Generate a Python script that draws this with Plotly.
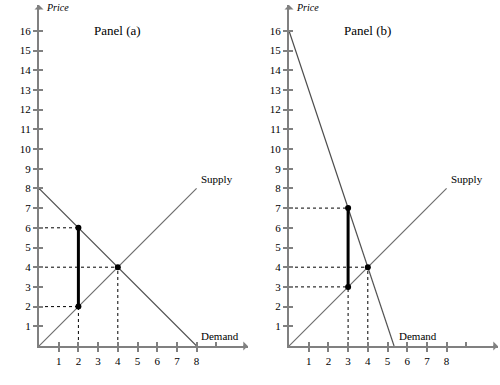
import plotly.graph_objects as go

# Data
ticks_x = [1, 2, 3, 4, 5, 6, 7, 8, 9]
tick_labels_x = ["1", "2", "3", "4", "5", "6", "7", "8", ""]
ticks_y = list(range(1, 17))
tick_labels_y = [str(v) for v in ticks_y]

supply_q = [0, 8]
supply_p = [0, 8]

demand_a_q = [0, 8]
demand_a_p = [8, 0]
points_a_q = [2, 2, 4]
points_a_p = [6, 2, 4]
wedge_a_q = [2, 2]
wedge_a_p = [2, 6]

demand_b_q = [0, 16 / 3]
demand_b_p = [16, 0]
points_b_q = [3, 3, 4]
points_b_p = [7, 3, 4]
wedge_b_q = [3, 3]
wedge_b_p = [3, 7]

PX = 19.7          # pixels per unit
XMAX = 10.6
Y0 = 346           # origin row (pixels from top)
YTOP = 5           # top of y axis arrow
YMAX = (Y0 - YTOP) / PX
FONT = "Liberation Serif, Times New Roman, serif"
AXC = "#808080"
LINEC = "#6e6e6e"
DASH = "3px,3px"

fig = go.Figure()


def panel(xa, ya, dq, dp, pq, pp, wq, wp, title, demand_label_x):
    xr = xa.replace("axis", "")
    yr = ya.replace("axis", "")
    for q, p in zip(pq, pp):
        fig.add_trace(go.Scatter(x=[0, q], y=[p, p], mode="lines",
                                 line=dict(color="black", width=1, dash=DASH),
                                 xaxis=xr, yaxis=yr, showlegend=False, hoverinfo="skip"))
    for q in sorted(set(pq)):
        fig.add_trace(go.Scatter(x=[q, q], y=[0, min(p for qq, p in zip(pq, pp) if qq == q)],
                                 mode="lines", line=dict(color="black", width=1, dash=DASH),
                                 xaxis=xr, yaxis=yr, showlegend=False, hoverinfo="skip"))
    fig.add_trace(go.Scatter(x=supply_q, y=supply_p, mode="lines",
                             line=dict(color=LINEC, width=1.2),
                             xaxis=xr, yaxis=yr, showlegend=False))
    fig.add_trace(go.Scatter(x=dq, y=dp, mode="lines",
                             line=dict(color="#505050", width=1.2),
                             xaxis=xr, yaxis=yr, showlegend=False))
    fig.add_trace(go.Scatter(x=wq, y=wp, mode="lines",
                             line=dict(color="black", width=3),
                             xaxis=xr, yaxis=yr, showlegend=False))
    fig.add_trace(go.Scatter(x=pq, y=pp, mode="markers",
                             marker=dict(color="black", size=6, symbol="circle"),
                             xaxis=xr, yaxis=yr, showlegend=False))
    fig.add_annotation(x=4.0, y=16, xref=xr, yref=yr, text=title, showarrow=False,
                       font=dict(family=FONT, size=13, color="black"))
    fig.add_annotation(x=8.1, y=8.5, xref=xr, yref=yr, text="Supply", showarrow=False,
                       xanchor="left", font=dict(family=FONT, size=11, color="black"))
    fig.add_annotation(x=demand_label_x, y=0.5, xref=xr, yref=yr, text="Demand", showarrow=False,
                       xanchor="left", font=dict(family=FONT, size=11, color="black"))
    fig.add_annotation(x=0.25, y=YMAX - 0.15, xref=xr, yref=yr, text="<i>Price</i>", showarrow=False,
                       xanchor="left", yanchor="middle", font=dict(family=FONT, size=10, color="black"))
    fig.add_annotation(x=XMAX, y=-0.55, xref=xr, yref=yr, text="<i>Quantity</i>", showarrow=False,
                       xanchor="right", yanchor="middle", font=dict(family=FONT, size=11, color="black"))
    fig.add_annotation(x=0, y=YMAX, xref=xr, yref=yr, ax=0, ay=6, axref="pixel", ayref="pixel",
                       text="", showarrow=True, arrowhead=1, arrowsize=1, arrowwidth=1.5, arrowcolor=AXC)
    fig.add_annotation(x=XMAX, y=0, xref=xr, yref=yr, ax=-6, ay=0, axref="pixel", ayref="pixel",
                       text="", showarrow=True, arrowhead=1, arrowsize=1, arrowwidth=1.5, arrowcolor=AXC)


panel("xaxis", "yaxis", demand_a_q, demand_a_p, points_a_q, points_a_p, wedge_a_q, wedge_a_p,
      "Panel (a)", 8.1)
panel("xaxis2", "yaxis2", demand_b_q, demand_b_p, points_b_q, points_b_p, wedge_b_q, wedge_b_p,
      "Panel (b)", 5.5)

xcommon = dict(range=[0, XMAX], showgrid=False, zeroline=False, showline=True, linecolor=AXC,
               linewidth=2, tickmode="array", tickvals=ticks_x, ticktext=tick_labels_x,
               ticks="outside", ticklen=4, tickwidth=1.5, tickcolor=AXC,
               minor=dict(ticks="inside", tickvals=ticks_x, ticklen=4, tickwidth=1.5, tickcolor=AXC),
               tickfont=dict(family=FONT, size=11, color="black"), fixedrange=True)
ycommon = dict(range=[0, YMAX], showgrid=False, zeroline=False, showline=True, linecolor=AXC,
               linewidth=2, tickmode="array", tickvals=ticks_y, ticktext=tick_labels_y,
               ticks="outside", ticklen=4, tickwidth=1.5, tickcolor=AXC,
               minor=dict(ticks="inside", tickvals=ticks_y, ticklen=4, tickwidth=1.5, tickcolor=AXC),
               tickfont=dict(family=FONT, size=11, color="black"), fixedrange=True)

W, H = 500, 385
ydom = [(H - Y0) / H, (H - YTOP) / H]
fig.update_layout(
    width=W, height=H,
    margin=dict(l=0, r=0, t=0, b=0),
    paper_bgcolor="white", plot_bgcolor="white",
    hovermode=False,
    xaxis=dict(domain=[39 / W, (39 + XMAX * PX) / W], anchor="y", **xcommon),
    yaxis=dict(domain=ydom, anchor="x", **ycommon),
    xaxis2=dict(domain=[289 / W, (289 + XMAX * PX) / W], anchor="y2", **xcommon),
    yaxis2=dict(domain=ydom, anchor="x2", **ycommon),
)

fig.write_html("out.html", config={"displayModeBar": False},
               post_script="document.body.style.margin='0px';")
